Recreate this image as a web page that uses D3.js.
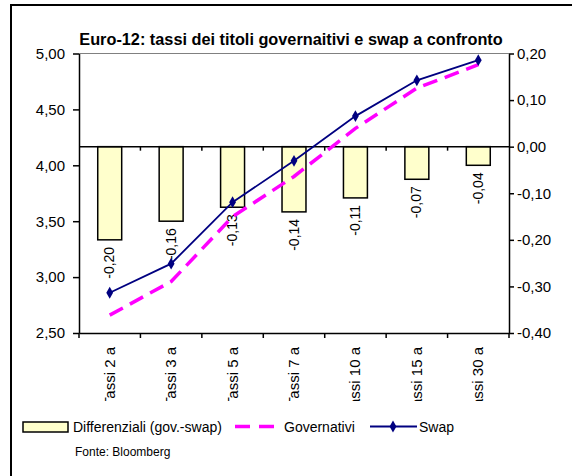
<!DOCTYPE html>
<html>
<head>
<meta charset="utf-8">
<script src="https://cdn.jsdelivr.net/npm/d3@7"></script>
<style>
  html, body { margin: 0; padding: 0; background: #fff; }
  svg { display: block; font-family: "Liberation Sans", Arial, sans-serif; }
</style>
</head>
<body>
<svg id="chart" width="572" height="476"></svg>
<script>
// Categories (maturities) and series
const categories = ["Tassi 2 a", "Tassi 3 a", "Tassi 5 a", "Tassi 7 a", "Tassi 10 a", "Tassi 15 a", "Tassi 30 a"];
const governativi = [2.66, 2.96, 3.54, 3.90, 4.33, 4.69, 4.90];
const swap = [2.86, 3.12, 3.67, 4.04, 4.44, 4.76, 4.94];
const differenziali = [-0.20, -0.16, -0.13, -0.14, -0.11, -0.07, -0.04];

// Axis ticks
const leftTicks = [2.5, 3.0, 3.5, 4.0, 4.5, 5.0];
const rightTicks = [-0.4, -0.3, -0.2, -0.1, 0.0, 0.1, 0.2];

const title = "Euro-12: tassi dei titoli governaitivi e swap a confronto";
const legendLabels = ["Differenziali (gov.-swap)", "Governativi", "Swap"];
const source = "Fonte: Bloomberg";

const locale = d3.formatLocale({ decimal: ",", thousands: ".", grouping: [3], currency: ["", " €"], minus: "-" });
const fmt = locale.format(".2f");

const svg = d3.select("#chart");

const plot = { left: 79, right: 509, top: 53.5, bottom: 333 };

const x = d3.scaleBand().domain(categories).range([plot.left, plot.right]).paddingInner(0).paddingOuter(0);
const yL = d3.scaleLinear().domain([2.5, 5]).range([plot.bottom, plot.top]);
const yR = d3.scaleLinear().domain([-0.4, 0.2]).range([plot.bottom, plot.top]);

const navy = "#000080";
const magenta = "#ff00ff";
const barFill = "#ffffcc";

// Outer frame (left and top edges)
svg.append("path")
  .attr("d", `M11,476 V5 H572`)
  .attr("fill", "none").attr("stroke", "#000").attr("stroke-width", 2);

// Title
svg.append("text")
  .attr("x", 291).attr("y", 45)
  .attr("text-anchor", "middle")
  .attr("font-size", 16.3).attr("font-weight", "bold")
  .text(title);

// Plot area top border
svg.append("line")
  .attr("x1", plot.left).attr("x2", plot.right)
  .attr("y1", plot.top).attr("y2", plot.top)
  .attr("stroke", "#808080").attr("stroke-width", 1);

// Bars (secondary axis)
const bw = x.bandwidth() * 0.39;
svg.append("g").selectAll("rect")
  .data(differenziali)
  .join("rect")
  .attr("x", (d, i) => x(categories[i]) + x.bandwidth() / 2 - bw / 2)
  .attr("y", d => Math.min(yR(0), yR(d)))
  .attr("width", bw)
  .attr("height", d => Math.abs(yR(d) - yR(0)))
  .attr("fill", barFill)
  .attr("stroke", "#000").attr("stroke-width", 1.5);

// Bar value labels
svg.append("g").selectAll("text")
  .data(differenziali)
  .join("text")
  .attr("transform", (d, i) => `translate(${x(categories[i]) + x.bandwidth() / 2 + 4.5},${yR(d) + 7}) rotate(-90)`)
  .attr("text-anchor", "end")
  .attr("font-size", 14)
  .text(d => fmt(d));

// Zero line of the secondary category axis with inner ticks
svg.append("line")
  .attr("x1", plot.left).attr("x2", plot.right)
  .attr("y1", yR(0)).attr("y2", yR(0))
  .attr("stroke", "#000").attr("stroke-width", 1.5);
svg.append("g").selectAll("line")
  .data(categories.slice(1))
  .join("line")
  .attr("x1", d => x(d)).attr("x2", d => x(d))
  .attr("y1", yR(0)).attr("y2", yR(0) + 4)
  .attr("stroke", "#000").attr("stroke-width", 1.5);

// Governativi line (dashed)
const lineGen = d3.line().x((d, i) => x(categories[i]) + x.bandwidth() / 2).y(d => yL(d));
svg.append("path")
  .datum(governativi)
  .attr("d", lineGen)
  .attr("fill", "none")
  .attr("stroke", magenta).attr("stroke-width", 3.5)
  .attr("stroke-dasharray", "15,8");

// Swap line with diamond markers
svg.append("path")
  .datum(swap)
  .attr("d", lineGen)
  .attr("fill", "none")
  .attr("stroke", navy).attr("stroke-width", 1.8);
svg.append("g").selectAll("path")
  .data(swap)
  .join("path")
  .attr("transform", (d, i) => `translate(${x(categories[i]) + x.bandwidth() / 2},${yL(d)})`)
  .attr("d", d3.symbol(d3.symbolDiamond, 40))
  .attr("fill", navy);

// Left axis
const axL = svg.append("g")
  .attr("transform", `translate(${plot.left},0)`)
  .call(d3.axisLeft(yL).tickValues(leftTicks).tickFormat(fmt).tickSize(6).tickPadding(8).tickSizeOuter(0));
// Right axis
const axR = svg.append("g")
  .attr("transform", `translate(${plot.right},0)`)
  .call(d3.axisRight(yR).tickValues(rightTicks).tickFormat(fmt).tickSize(5).tickPadding(3).tickSizeOuter(0));
// Bottom category axis
const axB = svg.append("g")
  .attr("transform", `translate(0,${plot.bottom})`)
  .call(d3.axisBottom(x).tickSize(0).tickFormat(""));
svg.append("g").selectAll("line")
  .data(categories.slice(1).map(c => x(c)).concat([plot.left, plot.right]))
  .join("line")
  .attr("x1", d => d).attr("x2", d => d)
  .attr("y1", plot.bottom).attr("y2", plot.bottom + 5)
  .attr("stroke", "#000").attr("stroke-width", 1.5);

[axL, axR, axB].forEach(g => {
  g.select(".domain").attr("stroke", "#000").attr("stroke-width", 1.5);
  g.selectAll(".tick line").attr("stroke", "#000").attr("stroke-width", 1.5);
  g.selectAll(".tick text").attr("font-size", 15).attr("fill", "#000")
    .attr("font-family", "'Liberation Sans', Arial, sans-serif");
});

// Category labels, rotated and clipped above the legend
svg.append("clipPath").attr("id", "catClip")
  .append("rect").attr("x", 0).attr("y", 335).attr("width", 572).attr("height", 66);
svg.append("g").attr("clip-path", "url(#catClip)")
  .selectAll("text")
  .data(categories)
  .join("text")
  .attr("transform", d => `translate(${x(d) + x.bandwidth() / 2 + 5},${plot.bottom + 14}) rotate(-90)`)
  .attr("text-anchor", "end")
  .attr("font-size", 15)
  .text(d => d);

// Legend
const leg = svg.append("g");
leg.append("rect").attr("x", 23).attr("y", 422).attr("width", 45).attr("height", 10)
  .attr("fill", barFill).attr("stroke", "#000").attr("stroke-width", 1.5);
leg.append("text").attr("x", 73).attr("y", 432).attr("font-size", 14).text(legendLabels[0]);
leg.append("line").attr("x1", 235).attr("x2", 276).attr("y1", 426.5).attr("y2", 426.5)
  .attr("stroke", magenta).attr("stroke-width", 3.5).attr("stroke-dasharray", "15,9");
leg.append("text").attr("x", 284).attr("y", 432).attr("font-size", 14).text(legendLabels[1]);
leg.append("line").attr("x1", 370).attr("x2", 417).attr("y1", 426.5).attr("y2", 426.5)
  .attr("stroke", navy).attr("stroke-width", 1.8);
leg.append("path").attr("transform", "translate(393,426.5)")
  .attr("d", d3.symbol(d3.symbolDiamond, 40)).attr("fill", navy);
leg.append("text").attr("x", 419).attr("y", 432).attr("font-size", 14).text(legendLabels[2]);

svg.append("text").attr("x", 75).attr("y", 456).attr("font-size", 12).text(source);
</script>
</body>
</html>
